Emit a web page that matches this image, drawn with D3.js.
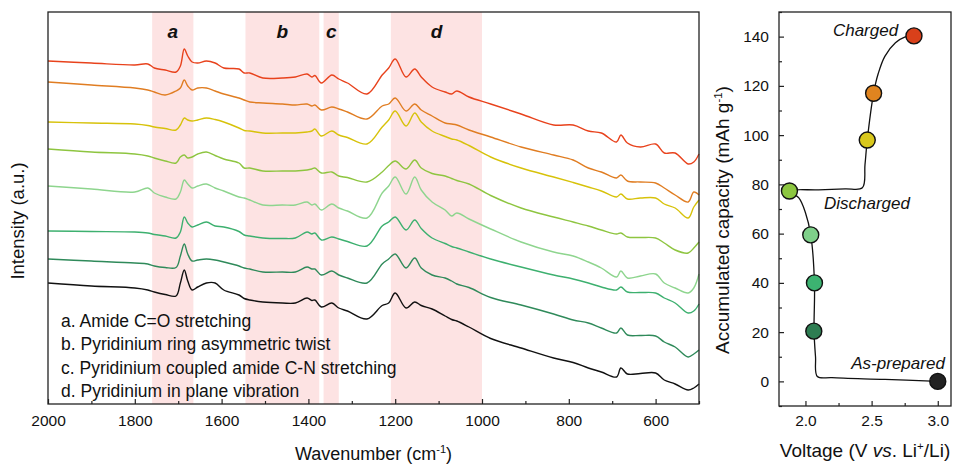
<!DOCTYPE html>
<html><head><meta charset="utf-8">
<script src="https://cdn.jsdelivr.net/npm/d3@7"></script>
<style>
body{margin:0;background:#fff;}
svg{display:block;}
text{font-family:"Liberation Sans",Arial,sans-serif;fill:#111;}
</style>
</head><body>
<svg id="c" width="955" height="465"></svg>
<script>
// ---------- DATA ----------
const wavenumbers = [2000,1900,1800,1770,1755,1730,1705,1695,1686,1678,1668,1655,1635,1615,1595,1560,1548,1535,1505,1460,1430,1403,1392,1385,1370,1346,1330,1310,1265,1230,1215,1200,1175,1155,1140,1115,1085,1070,1058,1030,980,910,835,790,755,725,690,680,665,635,600,580,555,525,512,500];

const seriesNames = ["Charged (140)","117","98","Discharged (77)","60","40","20","As-prepared"];
const seriesColors = ["#e8421c","#e07d22","#d7c20a","#8ec540","#8ed58e","#3db06f","#2f8a5a","#111111"];

const charged140 = [349,347,345,346,342,340,338,344,361,354,348,347,349,347,342,341,337,337,332,332,333,336,333,334.5,327,335,331,327,316,335,342,351,333,341,333,323,318,316,319,313,306,296,285,285,279,277,268,275,267,263,266,257,257,246,248,256];
const charged117 = [328,325,322,320,318,315,319,322,330,324,320,322,322,319,316,312,310,308,307,306,305,306,304,305,300,303,301,298,291,304,306,312,299,306,300,294,287,286,285,280,273,263,255,250,242,238,232,235,229,228,227,222,215,208,218,215];
const charged98 = [288,287,286,284.5,283,281.5,280,285,292,290,289,290,292,290.5,288,282,279.5,279,277,277,277,278,279,281,274,279,275,272.5,266,283,290,299,284,297,288,279,273.5,271,270,264.5,253,242,233,227.5,223,219,213,216,211,212,212,206,202,192,203,210];
const discharged77 = [261,258,256,254,252,249,247,253,255,252,253,256,258,254.5,251,247,242,242,239,239,239,240,241,242,237,238,234,232.5,228,238,244.5,249,241,250,242,236.5,234,231.5,229.5,226,214.5,202,193,188,184,180,176,177,173,172.5,172,167,160,157,162,168];
const discharged60 = [224,221,218,222,217,213,211,218,230,226,222,224,226,222,219,213,212,210,205,205,205,208,205,206,200,206,202,199,192,217,224,233,216,233,220,208,200,194,197,191,181,168,158,154,148,142,133,139,132,134,136,127,122,117,122,136];
const discharged40 = [179,178.5,178,177,175.5,174,172,178,193,187,183,185,188,184,183,178.5,175,174,172,171.5,172,178,176,177,170,173,171,168.5,164,184,188,193,180,190,181.5,172,166.5,163.5,162,158,151,143,135,131,127,123,120,123,118,117.5,117,112,107,97,99,106];
const discharged20 = [151,149,147,146,144,142.5,142.5,154,166,156,149,150,151,150,148,144,142,141,138,138,138,143,141,141,135,139,135,132,127,146,151,156,142,152,142,135,132,129,126,122.5,112.5,105,96,90,87,82,77,82,75,74.5,74,68,63,53,56,60];
const asPrepared = [127,124,122,120,118,115.5,114,127,140,129,120,123,127,127,120,115,111.5,110,108,107,107,112,109.5,110,103,107,102,99,91,104.5,107,117,102,108,104.5,101,94,90.5,89,83,71.5,62,52,47.5,42,38,33,42,36,36.5,37,30,26,20,22,26];

const spectra = [charged140,charged117,charged98,discharged77,discharged60,discharged40,discharged20,asPrepared];

const bandLabels = ["a","b","c","d"];
const bandStart = [1760,1545,1365,1210];
const bandEnd = [1665,1375,1330,1000];

const legendLines = ["a. Amide C=O stretching","b. Pyridinium ring asymmetric twist","c. Pyridinium coupled amide C-N stretching","d. Pyridinium in plane vibration"];

const wnMajorTicks = [2000,1800,1600,1400,1200,1000,800,600];
const wnMinorTicks = [1900,1700,1500,1300,1100,900,700,500];

// right panel
const pointVoltage = [2.82,2.515,2.467,1.879,2.04,2.068,2.063,3.0];
const pointCapacity = [140.3,117,98,77.3,59.5,40,20.4,0];
const pointColors = ["#d9401a","#e0841f","#d9c81c","#8cc640","#7fd08a","#3cb371","#2e7d52","#222222"];

const profileVoltage = [3.0,2.6,2.2,2.09,2.076,2.065,2.068,2.04,2.0,1.95,1.879,2.1,2.3,2.43,2.45,2.467,2.515,2.55,2.6,2.68,2.75,2.82];
const profileCapacity = [0,0.8,1.5,2.0,10,20.4,40,59.5,68.5,74.5,77.3,77.8,78.2,78.6,88,98,117,125,132,137.5,139.8,140.3];

const capMajorTicks = [0,20,40,60,80,100,120,140];
const capMinorTicks = [-10,10,30,50,70,90,110,130,150];
const voltMajorTicks = [2.0,2.5,3.0];
const voltMinorTicks = [2.25,2.75];

const annotations = [{t:"Charged",v:2.454,c:140.3},{t:"Discharged",v:2.465,c:70},{t:"As-prepared",v:2.70,c:5}];

// ---------- DRAW ----------
const svg = d3.select("#c");
const tickFont = 15.5;

// ===== Left panel =====
const L = {left:48, right:699, top:12, bottom:404};
const x = d3.scaleLinear().domain([2000,500]).range([L.left,L.right]);
const y = d3.scaleLinear().domain([6,398]).range([L.bottom,L.top]);

svg.append("g").selectAll("rect").data(bandStart).join("rect")
  .attr("x",(d)=>x(d)).attr("y",L.top)
  .attr("width",(d,i)=>x(bandEnd[i])-x(d)).attr("height",L.bottom-L.top)
  .attr("fill","#fde3e3");

svg.append("g").selectAll("text").data(bandLabels).join("text")
  .attr("x",(d,i)=>x((bandStart[i]+bandEnd[i])/2)).attr("y",38)
  .attr("text-anchor","middle").attr("font-size",19).attr("font-weight","bold").attr("font-style","italic")
  .text(d=>d);

const line = d3.line().x((d,i)=>x(wavenumbers[i])).y(d=>y(d)).curve(d3.curveCatmullRom.alpha(0.5));
svg.append("g").selectAll("path").data(spectra).join("path")
  .attr("d",line).attr("fill","none").attr("stroke",(d,i)=>seriesColors[i])
  .attr("stroke-width",1.4).attr("stroke-linejoin","round");

svg.append("g").selectAll("text").data(legendLines).join("text")
  .attr("x",61).attr("y",(d,i)=>327+i*23.4).attr("font-size",17.5).text(d=>d);

const gx = svg.append("g").attr("transform",`translate(0,${L.bottom})`);
gx.call(d3.axisBottom(x).tickValues(wnMajorTicks).tickSize(-5).tickPadding(11).tickFormat(d3.format("d")));
const gx2 = svg.append("g").attr("transform",`translate(0,${L.bottom})`);
gx2.call(d3.axisBottom(x).tickValues(wnMinorTicks).tickSize(-3).tickFormat(""));
[gx,gx2].forEach(g=>{g.select(".domain").remove();g.selectAll("line").attr("stroke","#222").attr("stroke-width",1.2);
  g.selectAll("text").attr("font-size",tickFont).attr("font-family","Liberation Sans, Arial, sans-serif").attr("fill","#111");});

svg.append("rect").attr("x",L.left).attr("y",L.top).attr("width",L.right-L.left).attr("height",L.bottom-L.top)
  .attr("fill","none").attr("stroke","#222").attr("stroke-width",1.3);

const wt = svg.append("text").attr("x",(L.left+L.right)/2).attr("y",460).attr("text-anchor","middle").attr("font-size",18);
wt.append("tspan").text("Wavenumber (cm");
wt.append("tspan").attr("font-size",11).attr("dy",-7).text("-1");
wt.append("tspan").attr("dy",7).text(")");

svg.append("text").attr("transform","translate(24,221) rotate(-90)").attr("text-anchor","middle")
  .attr("font-size",18.5).text("Intensity (a.u.)");

// ===== Right panel =====
const R = {left:779, right:951, top:12, bottom:406};
const xv = d3.scaleLinear().domain([1.8,3.1]).range([R.left,R.right]);
const yc = d3.scaleLinear().domain([-10,150]).range([R.bottom,R.top]);

const pline = d3.line().x((d,i)=>xv(profileVoltage[i])).y(d=>yc(d)).curve(d3.curveCatmullRom.alpha(0.5));
svg.append("path").datum(profileCapacity).attr("d",pline).attr("fill","none").attr("stroke","#111").attr("stroke-width",1.3);

svg.append("g").selectAll("circle").data(pointCapacity).join("circle")
  .attr("cx",(d,i)=>xv(pointVoltage[i])).attr("cy",d=>yc(d)).attr("r",8)
  .attr("fill",(d,i)=>pointColors[i]).attr("stroke","#111").attr("stroke-width",1.4);

svg.append("g").selectAll("text").data(annotations).join("text")
  .attr("x",d=>xv(d.v)).attr("y",d=>yc(d.c)).attr("text-anchor","middle")
  .attr("font-size",17).attr("font-style","italic").text(d=>d.t);

const gy = svg.append("g").attr("transform",`translate(${R.left},0)`);
gy.call(d3.axisLeft(yc).tickValues(capMajorTicks).tickSize(-5).tickPadding(10).tickFormat(d3.format("d")));
const gy2 = svg.append("g").attr("transform",`translate(${R.left},0)`);
gy2.call(d3.axisLeft(yc).tickValues(capMinorTicks).tickSize(-3).tickFormat(""));
const gvx = svg.append("g").attr("transform",`translate(0,${R.bottom})`);
gvx.call(d3.axisBottom(xv).tickValues(voltMajorTicks).tickSize(-5).tickPadding(9).tickFormat(d3.format(".1f")));
const gvx2 = svg.append("g").attr("transform",`translate(0,${R.bottom})`);
gvx2.call(d3.axisBottom(xv).tickValues(voltMinorTicks).tickSize(-3).tickFormat(""));
[gy,gy2,gvx,gvx2].forEach(g=>{g.select(".domain").remove();g.selectAll("line").attr("stroke","#222").attr("stroke-width",1.2);
  g.selectAll("text").attr("font-size",tickFont).attr("font-family","Liberation Sans, Arial, sans-serif").attr("fill","#111");});

svg.append("rect").attr("x",R.left).attr("y",R.top).attr("width",R.right-R.left).attr("height",R.bottom-R.top)
  .attr("fill","none").attr("stroke","#222").attr("stroke-width",1.3);

const vt = svg.append("text").attr("x",865).attr("y",457).attr("text-anchor","middle").attr("font-size",19);
vt.append("tspan").text("Voltage (V ");
vt.append("tspan").attr("font-style","italic").text("vs");
vt.append("tspan").text(". Li");
vt.append("tspan").attr("font-size",11.5).attr("dy",-7).text("+");
vt.append("tspan").attr("dy",7).text("/Li)");

const at = svg.append("text").attr("transform","translate(729,220) rotate(-90)").attr("text-anchor","middle").attr("font-size",19);
at.append("tspan").text("Accumulated capacity (mAh g");
at.append("tspan").attr("font-size",11.5).attr("dy",-7).text("-1");
at.append("tspan").attr("dy",7).text(")");
</script>
</body></html>
